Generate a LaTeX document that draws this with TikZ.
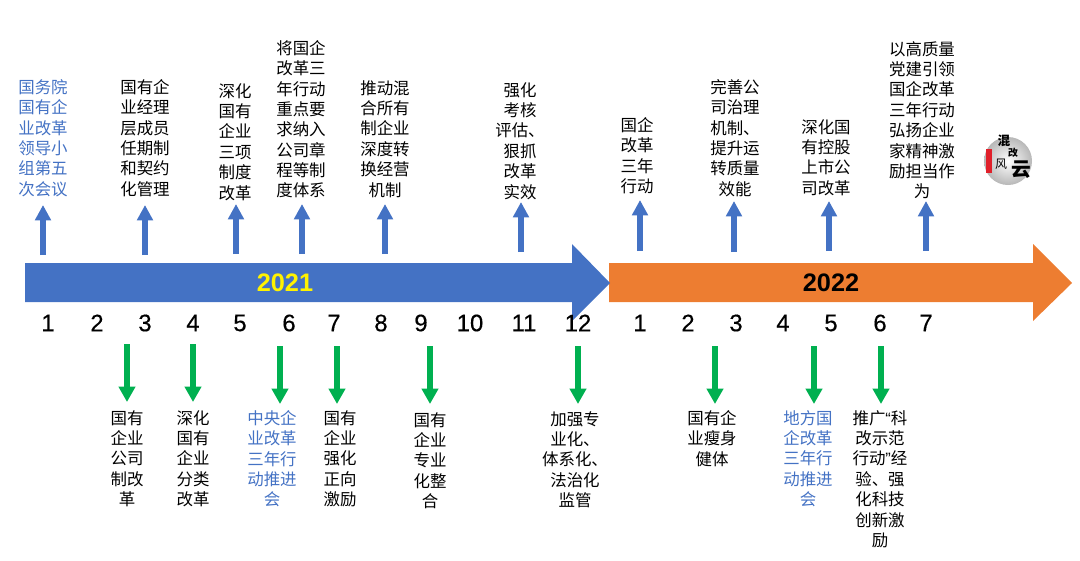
\documentclass[tikz,border=0pt]{standalone}
\usepackage{fontspec}
\setmainfont{Liberation Sans}
\newfontfamily\cjk{Noto Sans CJK SC}
\usepackage{xcolor}
\definecolor{barblue}{RGB}{68,114,196}
\definecolor{barorange}{RGB}{237,125,49}
\definecolor{arrowgreen}{RGB}{0,176,80}
\definecolor{sealred}{RGB}{224,32,42}
\usetikzlibrary{arrows.meta}
\newcommand{\qopen}{{\rmfamily “}}
\newcommand{\qclose}{{\rmfamily ”}}

\begin{document}
\begin{tikzpicture}[
    x=0.025cm, y=-0.025cm,
    % Styles
    event/.style={% For the event texts
        anchor=north,
        align=center,
        inner sep=0pt,
        font=\cjk\fontsize{11.7}{14.5}\selectfont,
        },
    eventblue/.style={% For the meetings in blue
        event,
        text=barblue,
        },
    month/.style={% For the month numbers
        inner sep=0pt,
        font=\addfontfeature{FakeBold=0.4}\fontsize{17}{17}\selectfont,
        },
    year/.style={% For the year on the bar
        inner sep=0pt,
        font=\bfseries\fontsize{18}{18}\selectfont,
        },
    logochar/.style={% For the characters of the round logo
        inner sep=0pt,
        },
    ArrowUp/.style={% Arrows above the bar
        -{Triangle[length=11pt,width=11pt]},
        line width=3.6pt,
        barblue,
        },
    ArrowDown/.style={% Arrows below the bar
        -{Triangle[length=11pt,width=11.5pt]},
        line width=3.6pt,
        arrowgreen,
        },
    ]

    \useasboundingbox (0,0) rectangle (1080,560);

    % Draw the two bars
    \fill [barorange] (609,263) -- (1033,263) -- (1033,244) -- (1072,283) -- (1033,321) -- (1033,302) -- (609,302) -- cycle;
    \fill [barblue] (25,263) -- (572,263) -- (572,244) -- (610,283) -- (572,321) -- (572,302) -- (25,302) -- cycle;
    \node [year, text=yellow] (y21) at (285,283) {2021};
    \node [year] (y22) at (831,283) {2022};

    % Draw months of 2021 named m#
    \node [month] (m1) at (48,323) {1};
    \node [month] (m2) at (97,323) {2};
    \node [month] (m3) at (145,323) {3};
    \node [month] (m4) at (193,323) {4};
    \node [month] (m5) at (240,323) {5};
    \node [month] (m6) at (289,323) {6};
    \node [month] (m7) at (334,323) {7};
    \node [month] (m8) at (381,323) {8};
    \node [month] (m9) at (421,323) {9};
    \node [month] (m10) at (470,323) {10};
    \node [month] (m11) at (524,323) {11};
    \node [month] (m12) at (578,323) {12};

    % Draw months of 2022 named n#
    \node [month] (n1) at (640,323) {1};
    \node [month] (n2) at (688,323) {2};
    \node [month] (n3) at (736,323) {3};
    \node [month] (n4) at (783,323) {4};
    \node [month] (n5) at (831,323) {5};
    \node [month] (n6) at (880,323) {6};
    \node [month] (n7) at (926,323) {7};

    % Draw texts above the bar named top#
    \node [eventblue] (top1) at (43,79) {国务院\\国有企\\业改革\\领导小\\组第五\\次会议};
    \node [event] (top2) at (145,79) {国有企\\业经理\\层成员\\任期制\\和契约\\化管理};
    \node [event] (top3) at (235,83) {深化\\国有\\企业\\三项\\制度\\改革};
    \node [event] (top4) at (301,40) {将国企\\改革三\\年行动\\重点要\\求纳入\\公司章\\程等制\\度体系};
    \node [event] (top5) at (385,80) {推动混\\合所有\\制企业\\深度转\\换经营\\机制};
    \node [event] (top6) at (520,82) {强化\\考核\\评估、\\狠抓\\改革\\实效};
    \node [event] (top7) at (637,117) {国企\\改革\\三年\\行动};
    \node [event] (top8) at (735,79) {完善公\\司治理\\机制、\\提升运\\转质量\\效能};
    \node [event] (top9) at (826,119) {深化国\\有控股\\上市公\\司改革};
    \node [event] (top10) at (922,41) {以高质量\\党建引领\\国企改革\\三年行动\\弘扬企业\\家精神激\\励担当作\\为};

    % Draw texts below the bar named low#
    \node [event] (low1) at (127,410) {国有\\企业\\公司\\制改\\革};
    \node [event] (low2) at (193,410) {深化\\国有\\企业\\分类\\改革};
    \node [eventblue] (low3) at (272,410) {中央企\\业改革\\三年行\\动推进\\会};
    \node [event] (low4) at (340,410) {国有\\企业\\强化\\正向\\激励};
    \node [event] (low5) at (430,412) {国有\\企业\\专业\\化整\\合};
    \node [event] (low6) at (575,411) {加强专\\业化、\\体系化、\\法治化\\监管};
    \node [event] (low7) at (712,410) {国有企\\业瘦身\\健体};
    \node [eventblue] (low8) at (808,410) {地方国\\企改革\\三年行\\动推进\\会};
    \node [event] (low9) at (880,410) {推广\qopen 科\\改示范\\行动\qclose 经\\验、强\\化科技\\创新激\\励};

    % Arrow ends above the bar
    \coordinate (ua1) at (43,255);   \coordinate (ub1) at (43,205);
    \coordinate (ua2) at (145,255);  \coordinate (ub2) at (145,205);
    \coordinate (ua3) at (236,254);  \coordinate (ub3) at (236,204);
    \coordinate (ua4) at (302,254);  \coordinate (ub4) at (302,204);
    \coordinate (ua5) at (385,254);  \coordinate (ub5) at (385,204);
    \coordinate (ua6) at (521,252);  \coordinate (ub6) at (521,202);
    \coordinate (ua7) at (640,251);  \coordinate (ub7) at (640,200);
    \coordinate (ua8) at (734,252);  \coordinate (ub8) at (734,201);
    \coordinate (ua9) at (829,251);  \coordinate (ub9) at (829,201);
    \coordinate (ua10) at (926,251); \coordinate (ub10) at (926,201);

    % Arrow ends below the bar
    \coordinate (da1) at (127,344);  \coordinate (db1) at (127,402);
    \coordinate (da2) at (193,344);  \coordinate (db2) at (193,402);
    \coordinate (da3) at (280,346);  \coordinate (db3) at (280,404);
    \coordinate (da4) at (337,346);  \coordinate (db4) at (337,404);
    \coordinate (da5) at (430,346);  \coordinate (db5) at (430,404);
    \coordinate (da6) at (578,346);  \coordinate (db6) at (578,404);
    \coordinate (da7) at (715,346);  \coordinate (db7) at (715,404);
    \coordinate (da8) at (814,346);  \coordinate (db8) at (814,404);
    \coordinate (da9) at (881,346);  \coordinate (db9) at (881,404);

    % Drawing arrows
    \draw [ArrowUp] (ua1) -- (ub1);
    \draw [ArrowUp] (ua2) -- (ub2);
    \draw [ArrowUp] (ua3) -- (ub3);
    \draw [ArrowUp] (ua4) -- (ub4);
    \draw [ArrowUp] (ua5) -- (ub5);
    \draw [ArrowUp] (ua6) -- (ub6);
    \draw [ArrowUp] (ua7) -- (ub7);
    \draw [ArrowUp] (ua8) -- (ub8);
    \draw [ArrowUp] (ua9) -- (ub9);
    \draw [ArrowUp] (ua10) -- (ub10);

    \draw [ArrowDown] (da1) -- (db1);
    \draw [ArrowDown] (da2) -- (db2);
    \draw [ArrowDown] (da3) -- (db3);
    \draw [ArrowDown] (da4) -- (db4);
    \draw [ArrowDown] (da5) -- (db5);
    \draw [ArrowDown] (da6) -- (db6);
    \draw [ArrowDown] (da7) -- (db7);
    \draw [ArrowDown] (da8) -- (db8);
    \draw [ArrowDown] (da9) -- (db9);

    % Draw the round logo on the right
    \shade [inner color=white, outer color=black!28] (1008,161) circle (24);
    \fill [sealred] (986,149) rectangle (992,173);
    \node [logochar, font=\cjk\bfseries\fontsize{9}{9}\selectfont] (lg1) at (1004,141) {混};
    \node [logochar, font=\cjk\bfseries\fontsize{7}{7}\selectfont] (lg2) at (1013,153) {改};
    \node [logochar, font=\cjk\fontsize{8.5}{8.5}\selectfont] (lg3) at (1001,164) {风};
    \node [logochar, font=\cjk\bfseries\fontsize{14}{14}\selectfont] (lg4) at (1021,170) {云};

\end{tikzpicture}
\end{document}
